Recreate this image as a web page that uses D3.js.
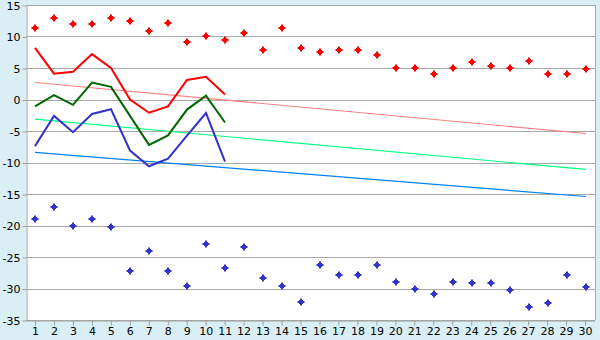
<!DOCTYPE html>
<html>
<head>
<meta charset="utf-8">
<script src="https://cdn.jsdelivr.net/npm/d3@7/dist/d3.min.js"></script>
<style>
  body { margin: 0; background: #d9eef5; }
  svg { display: block; }
  .axis text { font-family: "DejaVu Sans", Verdana, sans-serif; font-size: 11px; fill: #000; }
  .axis path, .axis line { stroke: #a0a0a0; }
</style>
</head>
<body>
<svg id="chart" width="600" height="340"></svg>
<script>
var days = d3.range(1, 31);

var redPoints = [11.4, 12.9, 12.0, 12.0, 13.0, 12.5, 10.95, 12.2, 9.2, 10.0,
  9.5, 10.5, 7.8, 11.4, 8.25, 7.6, 7.9, 7.9, 7.1, 5.0,
  5.0, 4.0, 5.0, 5.9, 5.3, 5.0, 6.1, 4.0, 4.0, 4.8];
var bluePoints = [-18.9, -17.0, -20.0, -18.9, -20.2, -27.3, -24.0, -27.3, -29.6, -22.9,
  -26.7, -23.4, -28.4, -29.6, -32.1, -26.2, -27.8, -27.8, -26.2, -28.9,
  -30.0, -30.8, -28.9, -29.1, -29.1, -30.2, -32.9, -32.3, -27.8, -29.7];

var redLine = [8.2, 4.1, 4.4, 7.2, 5.0, 0.0, -2.1, -1.1, 3.1, 3.6, 0.8];
var greenLine = [-1.1, 0.7, -0.85, 2.7, 2.0, -2.6, -7.2, -5.7, -1.6, 0.6, -3.65];
var blueLine = [-7.4, -2.6, -5.2, -2.3, -1.55, -8.1, -10.6, -9.4, -5.75, -2.15, -9.85];

// trend lines: value at day 1 and day 30
var trendRed = [2.7, -5.4];
var trendGreen = [-3.1, -11.1];
var trendBlue = [-8.4, -15.4];

var yTicks = [15, 10, 5, 0, -5, -10, -15, -20, -25, -30, -35];

var svg = d3.select("#chart"),
  margins = { top: 5, right: 5, bottom: 20, left: 26 },
  width = 600, height = 340;

var x = d3.scaleBand().domain(days).range([margins.left, width - margins.right]);
var y = d3.scaleLinear().domain([-35, 15]).range([height - margins.bottom, margins.top]);

function cx(d) { return Math.round(x(d) + x.bandwidth() / 2); }

svg.append("rect")
  .attr("x", margins.left).attr("y", margins.top)
  .attr("width", width - margins.right - margins.left)
  .attr("height", height - margins.bottom - margins.top)
  .attr("fill", "#fff");

// grid
svg.append("g")
  .selectAll("line").data(yTicks).enter().append("line")
  .attr("x1", margins.left).attr("x2", width - margins.right)
  .attr("y1", function (d) { return Math.round(y(d)) + 0.5; })
  .attr("y2", function (d) { return Math.round(y(d)) + 0.5; })
  .attr("stroke", "#a8a8a8");

svg.append("line")
  .attr("x1", width - margins.right + 0.5).attr("x2", width - margins.right + 0.5)
  .attr("y1", margins.top).attr("y2", height - margins.bottom)
  .attr("stroke", "#a8a8a8");

svg.append("g")
  .attr("class", "axis")
  .attr("transform", "translate(" + (margins.left + 0.5) + ",0.5)")
  .call(d3.axisLeft(y).tickValues(yTicks).tickSize(4).tickPadding(2).tickSizeOuter(0)
    .tickFormat(function (d) { return String(d); }));

svg.append("g")
  .attr("class", "axis")
  .attr("transform", "translate(0," + (height - margins.bottom + 0.5) + ")")
  .call(d3.axisBottom(x).tickSize(5).tickPadding(2).tickSizeOuter(0));

svg.selectAll(".axis .tick line").attr("stroke", "#000");

function lineOf(vals) {
  return d3.line()
    .x(function (d, i) { return cx(days[i]); })
    .y(function (d) { return y(d); })(vals);
}

function trend(vals, color) {
  svg.append("line")
    .attr("x1", cx(days[0])).attr("x2", cx(days[days.length - 1]))
    .attr("y1", y(vals[0])).attr("y2", y(vals[1]))
    .attr("stroke", color).attr("stroke-width", 1.2);
}

trend(trendRed, "#ff8080");
trend(trendGreen, "#00ff80");
trend(trendBlue, "#0080ff");

[[redLine, "#ff0000"], [greenLine, "#006600"], [blueLine, "#3333cc"]].forEach(function (s) {
  svg.append("path")
    .attr("d", lineOf(s[0]))
    .attr("fill", "none")
    .attr("stroke", s[1])
    .attr("stroke-width", 2);
});

// small plus marker with a filled core
var marker = "M-1,-3.5H1V-2H2V-1H3.5V1H2V2H1V3.5H-1V2H-2V1H-3.5V-1H-2V-2H-1Z";

function points(vals, color) {
  svg.append("g").selectAll("path").data(vals).enter().append("path")
    .attr("d", marker)
    .attr("transform", function (d, i) { return "translate(" + cx(days[i]) + "," + Math.round(y(d)) + ")"; })
    .attr("fill", color);
}

points(redPoints, "#ff0000");
points(bluePoints, "#3333cc");
</script>
</body>
</html>
